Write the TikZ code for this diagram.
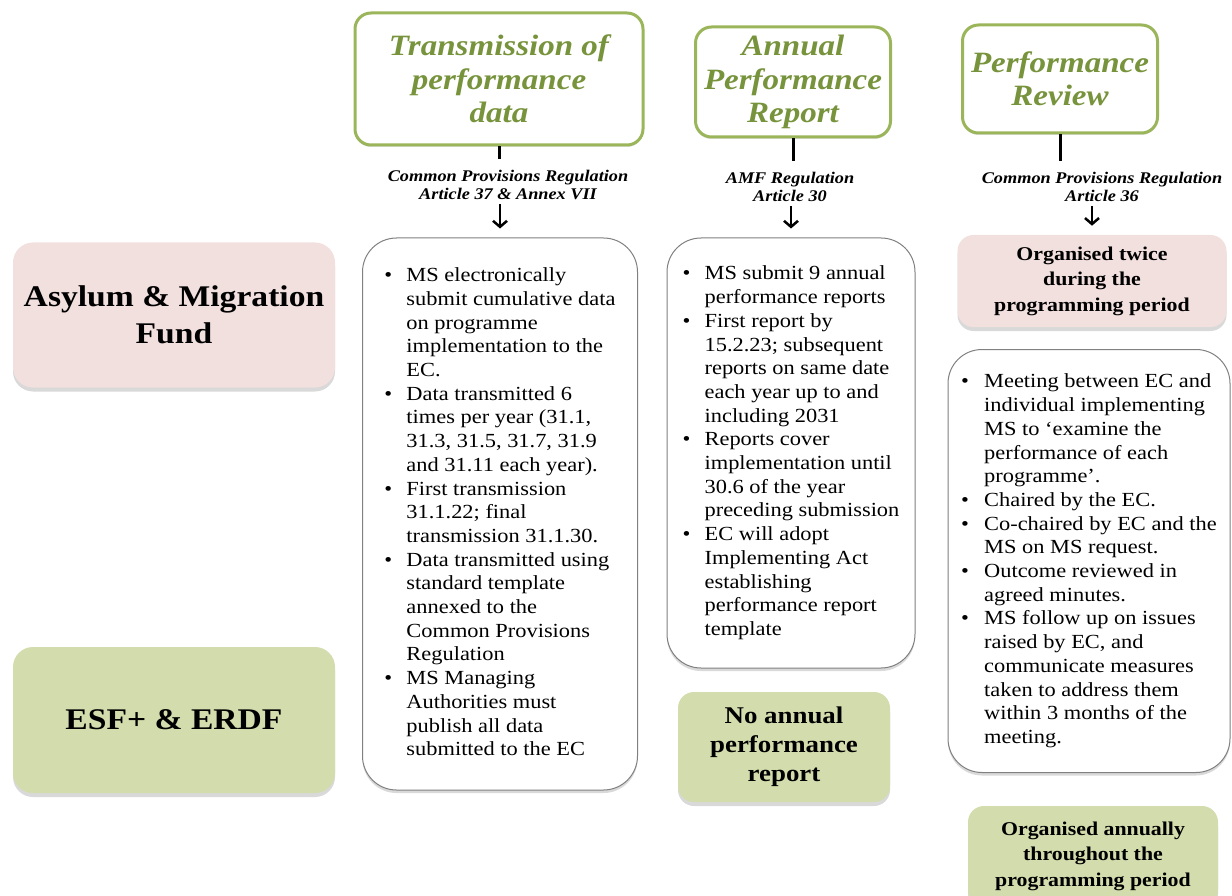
\documentclass[tikz,border=0pt]{standalone}
\usepackage{fontspec}
\setmainfont{Liberation Serif}[FakeStretch=1.12]
\usetikzlibrary{shadows,arrows.meta,positioning}

\definecolor{amfpink}{HTML}{F2E0DE}
\definecolor{esfgreen}{HTML}{D2DCAC}
\definecolor{hdrline}{HTML}{9BB65A}
\definecolor{hdrtext}{HTML}{77933C}
\definecolor{boxline}{HTML}{808080}

\begin{document}
\begin{tikzpicture}[x=1pt, y=-1pt, >={Straight Barb[length=6pt,width=14pt,line width=2.5pt]}, semithick]

    \tikzstyle{fund} = [rectangle, rounded corners=20pt, minimum width=322pt, text centered, align=center, font=\fontsize{30}{37}\selectfont\bfseries, drop shadow={shadow xshift=0pt, shadow yshift=-4pt, opacity=0.3}]
    \tikzstyle{hdr}  = [rectangle, rounded corners=16pt, draw=hdrline, line width=3pt, fill=white, text=hdrtext, align=center, font=\fontsize{29.5}{33.5}\selectfont\bfseries\itshape, drop shadow={shadow xshift=0pt, shadow yshift=-2pt, opacity=0.25}]
    \tikzstyle{ref}  = [align=center, inner sep=2pt, font=\fontsize{16.3}{18}\selectfont\bfseries\itshape]
    \tikzstyle{body} = [rectangle, rounded corners=34pt, draw=boxline, line width=1pt, fill=white, inner sep=0pt, font=\fontsize{20}{23.7}\selectfont, drop shadow={shadow xshift=0pt, shadow yshift=-3pt, opacity=0.3}]
    \tikzstyle{note} = [rectangle, rounded corners=16pt, align=center, font=\fontsize{19.5}{25.5}\selectfont\bfseries, drop shadow={shadow xshift=0pt, shadow yshift=-4pt, opacity=0.3}]
    \tikzstyle{stub} = [line width=3pt, shorten >=9pt]
    \tikzstyle{down} = [->, line width=2.5pt, shorten <=2pt, shorten >=9pt]

    \useasboundingbox (0,0) rectangle (1232,896);

    % funds on the left
    \node (amf) [fund, fill=amfpink, minimum height=145pt] at (174,315) {Asylum \& Migration\\Fund};
    \node (esf) [fund, fill=esfgreen, minimum height=146pt] at (174,720) {ESF+ \& ERDF};

    % headers
    \node (trans)  [hdr, minimum width=288pt, minimum height=132pt] at (499,79)    {Transmission of\\performance\\data};
    \node (annual) [hdr, minimum width=195pt, minimum height=110pt] at (793,82)    {Annual\\Performance\\Report};
    \node (review) [hdr, minimum width=195pt, minimum height=108pt] at (1060,79)   {Performance\\Review};

    % legal bases
    \node (cprtrans)  [ref] at (508,185)  {Common Provisions Regulation\\Article 37 \& Annex VII};
    \node (amfreg)    [ref] at (790,187)  {AMF Regulation\\Article 30};
    \node (cprreview) [ref] at (1102,187) {Common Provisions Regulation\\Article 36};

    % column contents
    \node (transbox) [body, minimum width=275pt, minimum height=552pt] at (500,514) {%
    \begin{tabular}{@{}p{22pt}@{}l@{}}
    \textbullet & MS electronically\\
     & submit cumulative data\\
     & on programme\\
     & implementation to the\\
     & EC.\\
    \textbullet & Data transmitted 6\\
     & times per year (31.1,\\
     & 31.3, 31.5, 31.7, 31.9\\
     & and 31.11 each year).\\
    \textbullet & First transmission\\
     & 31.1.22; final\\
     & transmission 31.1.30.\\
    \textbullet & Data transmitted using\\
     & standard template\\
     & annexed to the\\
     & Common Provisions\\
     & Regulation\\
    \textbullet & MS Managing\\
     & Authorities must\\
     & publish all data\\
     & submitted to the EC
    \end{tabular}};

    \node (annualbox) [body, minimum width=248pt, minimum height=430pt] at (791,453) {%
    \begin{tabular}{@{}p{22pt}@{}l@{}}
    \textbullet & MS submit 9 annual\\
     & performance reports\\
    \textbullet & First report by\\
     & 15.2.23; subsequent\\
     & reports on same date\\
     & each year up to and\\
     & including 2031\\
    \textbullet & Reports cover\\
     & implementation until\\
     & 30.6 of the year\\
     & preceding submission\\
    \textbullet & EC will adopt\\
     & Implementing Act\\
     & establishing\\
     & performance report\\
     & template
    \end{tabular}};

    \node (twice) [note, fill=amfpink, minimum width=269pt, minimum height=92pt] at (1092,281) {Organised twice\\during the\\programming period};

    \node (reviewbox) [body, minimum width=282pt, minimum height=423pt] at (1089,561) {%
    \begin{tabular}{@{}p{23pt}@{}l@{}}
    \textbullet & Meeting between EC and\\
     & individual implementing\\
     & MS to `examine the\\
     & performance of each\\
     & programme'.\\
    \textbullet & Chaired by the EC.\\
    \textbullet & Co-chaired by EC and the\\
     & MS on MS request.\\
    \textbullet & Outcome reviewed in\\
     & agreed minutes.\\
    \textbullet & MS follow up on issues\\
     & raised by EC, and\\
     & communicate measures\\
     & taken to address them\\
     & within 3 months of the\\
     & meeting.
    \end{tabular}};

    \node (noreport) [note, fill=esfgreen, minimum width=212pt, minimum height=110pt, font=\fontsize{24}{29}\selectfont\bfseries] at (784,747) {No annual\\performance\\report};
    \node (annually) [note, fill=esfgreen, minimum width=250pt, minimum height=100pt] at (1093,856) {Organised annually\\throughout the\\programming period};

    % connectors
    \draw[stub] (trans.south)  -- (trans.south |- cprtrans.north);
    \draw[stub] (annual.south) -- (annual.south |- amfreg.north);
    \draw[stub] (review.south) -- (review.south |- cprreview.north);

    \draw[down] (transbox.north |- cprtrans.south) -- (transbox.north);
    \draw[down] (annualbox.north |- amfreg.south) -- (annualbox.north);
    \draw[down] (twice.north |- cprreview.south)   -- (twice.north);
\end{tikzpicture}
\end{document}
